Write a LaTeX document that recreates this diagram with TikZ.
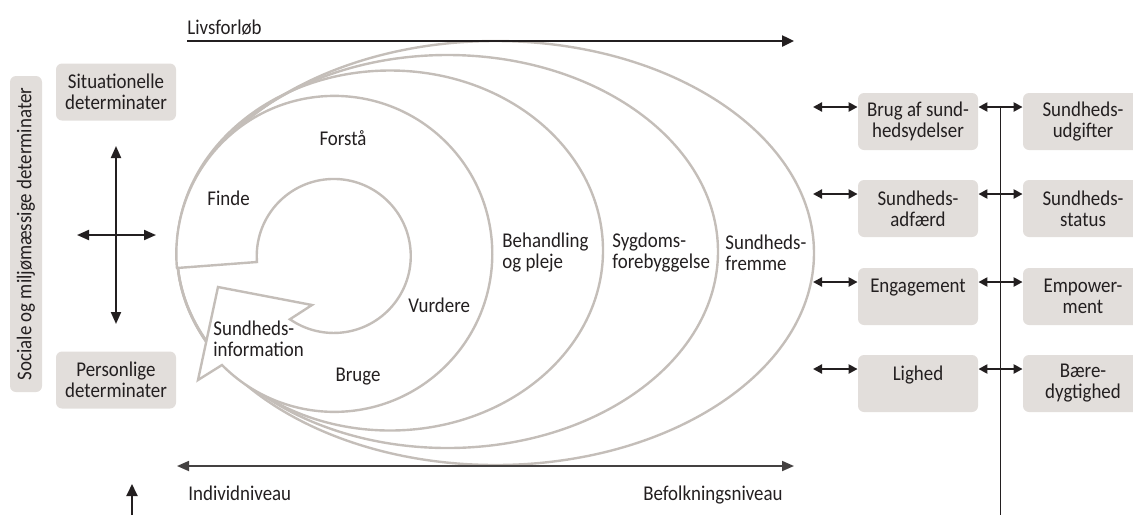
\documentclass[tikz,border=0pt]{standalone}
\usepackage{fontspec}
\setmainfont{Carlito}[FakeStretch=0.9]
\usetikzlibrary{arrows.meta}

\definecolor{boxgray}{HTML}{E2DEDB}
\definecolor{ringgray}{HTML}{C4BEB9}
\definecolor{inkblack}{HTML}{231F20}

\tikzset{
  every node/.style={text=inkblack, inner sep=0pt, font=\fontsize{10.5}{10.5}\selectfont},
  detbox/.style={fill=boxgray, rounded corners=3pt, minimum width=60pt, minimum height=28.5pt, align=center},
  ring/.style={draw=ringgray, line width=1.2pt},
  oneway/.style={draw=inkblack, line width=1.2pt, -{Triangle[length=6pt,width=5.5pt]}},
  twoway/.style={draw=inkblack, line width=1pt, {Triangle[length=6pt,width=5pt]}-{Triangle[length=6pt,width=5pt]}},
  shortway/.style={draw=inkblack, line width=1.1pt, {Triangle[length=4.5pt,width=4.5pt]}-{Triangle[length=4.5pt,width=4.5pt]}},
}

\begin{document}
\begin{tikzpicture}[x=0.5pt, y=-0.5pt]

\def\rowa{107}
\def\rowb{194}
\def\rowc{282}
\def\rowd{369}

\path [use as bounding box] (0,0) rectangle (1133,515);

% RINGS
\draw [ring] (495.5,253) ellipse [x radius=318.5, y radius=212];
\draw [ring] (447.5,251.5) ellipse [x radius=270.5, y radius=196.5];
\draw [ring] (390,250.5) ellipse [x radius=213, y radius=180];

% SPIRAL
\draw [ring, fill=white] (177,268) -- (257,262)
  arc [start angle=175.5, end angle=484.7, radius=77]
  -- (312,305) -- (218,287) -- (198,380) -- (222,365)
  arc [start angle=135.3, end angle=-185.4, radius=158] -- cycle;

\node (finde) [anchor=west] at (207,198) {Finde};
\node (forstaa) at (343,138) {Forstå};
\node (vurdere) [anchor=west] at (408,305) {Vurdere};
\node (bruge) at (358,377) {Bruge};
\node (suninfo) [anchor=west, align=left] at (213,339) {Sundheds-\\information};
\node (behand) [anchor=west, align=left] at (502,252.5) {Behandling\\og pleje};
\node (sygdom) [anchor=west, align=left] at (612,252.5) {Sygdoms-\\forebyggelse};
\node (fremme) [anchor=west, align=left] at (725,252.5) {Sundheds-\\fremme};

% AXES
\coordinate (livs0) at (187,41);
\coordinate (livs1) at (794,41);
\draw [oneway] (livs0) -- (livs1);
\node (livs) [anchor=base west] at (187,34) {Livsforløb};

\coordinate (niv0) at (177,466);
\coordinate (niv1) at (794,466);
\draw [twoway, draw=inkblack!85, line width=0.9pt] (niv0) -- (niv1);
\node (indiv) [anchor=base west] at (188,500) {Individniveau};
\node (befolk) [anchor=base east] at (783,500) {Befolkningsniveau};

\coordinate (up0) at (132,515);
\coordinate (up1) at (132,484);
\draw [oneway, line width=1pt] (up0) -- (up1);

% DETERMINANTS
\node (socdet) [detbox, rotate=90, minimum width=158pt, minimum height=16pt] at (26,234) {Sociale og miljømæssige determinater};
\node (sitdet) [detbox] at (116,92) {Situationelle\\determinater};
\node (perdet) [detbox] at (116,380) {Personlige\\determinater};

\coordinate (crossn) at (116,146);
\coordinate (crosss) at (116,324);
\coordinate (crossw) at (77,235);
\coordinate (crosse) at (156,235);
\draw [twoway] (crossn) -- (crosss);
\draw [twoway] (crossw) -- (crosse);

% OUTCOMES
\node (brug) [detbox] at (918,121.5) {Brug af sund-\\hedsydelser};
\node (adfaerd) [detbox] at (918,208.5) {Sundheds-\\adfærd};
\node (engage) [detbox] at (918,296.5) {Engagement\\\mbox{}};
\node (lighed) [detbox] at (918,383.5) {Lighed\\\mbox{}};

\node (udgift) [detbox] at (1083,121.5) {Sundheds-\\udgifter};
\node (status) [detbox] at (1083,208.5) {Sundheds-\\status};
\node (empower) [detbox] at (1083,296.5) {Empower-\\ment};
\node (baere) [detbox] at (1083,383.5) {Bære-\\dygtighed};

\coordinate (ra) at (813,\rowa);
\coordinate (rb) at (813,\rowb);
\coordinate (rc) at (813,\rowc);
\coordinate (rd) at (813,\rowd);
\coordinate (spine) at (1000.5,515);

\draw [line width=0.7pt, draw=inkblack] (ra -| spine) -- (spine);

\draw [shortway] (ra) -- (ra -| brug.west);
\draw [shortway] (rb) -- (rb -| adfaerd.west);
\draw [shortway] (rc) -- (rc -| engage.west);
\draw [shortway] (rd) -- (rd -| lighed.west);

\draw [shortway] (ra -| brug.east) -- (ra -| udgift.west);
\draw [shortway] (rb -| adfaerd.east) -- (rb -| status.west);
\draw [shortway] (rc -| engage.east) -- (rc -| empower.west);
\draw [shortway] (rd -| lighed.east) -- (rd -| baere.west);

\end{tikzpicture}
\end{document}
